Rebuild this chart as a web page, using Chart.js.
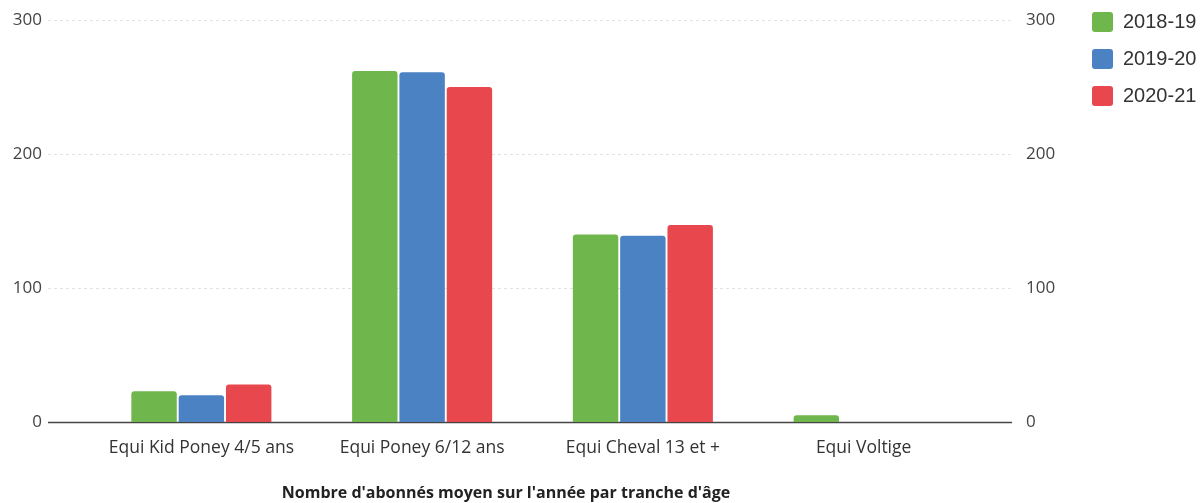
<!DOCTYPE html>
<html><head><meta charset="utf-8">
<script src="https://cdn.jsdelivr.net/npm/chart.js@4.4.1/dist/chart.umd.min.js"></script>
<style>html,body{margin:0;padding:0;background:#fff}#wrap{width:1200px;height:503px;position:relative}</style>
</head><body><div id="wrap"><canvas id="c" width="1200" height="503"></canvas></div>
<script>
const categories = ["Equi Kid Poney 4/5 ans", "Equi Poney 6/12 ans", "Equi Cheval 13 et +", "Equi Voltige"];
const seriesNames = ["2018-19", "2019-20", "2020-21"];
const values2018 = [23, 262, 140, 5];
const values2019 = [20, 261, 139, 0];
const values2020 = [28, 250, 147, 0];
const yTicks = [0, 100, 200, 300];
const chartTitle = "Nombre d'abonnés moyen sur l'année par tranche d'âge";
const colors = ["#6fb64d", "#4a82c4", "#e8474d"];

const CHART_RIGHT = 974;

const gridPlugin = {
  id: 'extGrid',
  afterLayout(chart) {
    const lg = chart.legend;
    if (lg) {
      const w = lg.width, h = lg.height;
      lg.left = 1075; lg.right = 1075 + w;
      lg.top = -5; lg.bottom = -5 + h;
    }
  },
  beforeDatasetsDraw(chart) {
    const ctx = chart.ctx, y = chart.scales.y;
    ctx.save();
    yTicks.forEach(v => {
      const py = Math.round(y.getPixelForValue(v)) + 0.5;
      ctx.beginPath();
      if (v === 0) { ctx.strokeStyle = '#444'; ctx.lineWidth = 1.5; ctx.setLineDash([]); }
      else { ctx.strokeStyle = '#e2e2e2'; ctx.lineWidth = 1; ctx.setLineDash([3, 3]); }
      ctx.moveTo(48, py); ctx.lineTo(1012, py); ctx.stroke();
    });
    ctx.restore();
  },
  afterDraw(chart) {
    const ctx = chart.ctx;
    ctx.save();
    ctx.font = 'bold 16px "Open Sans"';
    ctx.fillStyle = '#222';
    ctx.textAlign = 'center'; ctx.textBaseline = 'middle';
    ctx.fillText(chartTitle, 506, 493);
    ctx.restore();
  }
};

new Chart(document.getElementById('c'), {
  type: 'bar',
  data: {
    labels: categories,
    datasets: [
      { label: seriesNames[0], data: values2018, backgroundColor: colors[0] },
      { label: seriesNames[1], data: values2019, backgroundColor: colors[1] },
      { label: seriesNames[2], data: values2020, backgroundColor: colors[2] }
    ]
  },
  options: {
    responsive: false, animation: false,
    layout: { padding: 0 },
    datasets: { bar: { barPercentage: 0.96, categoryPercentage: 0.643, borderRadius: 3 } },
    scales: {
      x: {
        grid: { display: false, drawTicks: false }, border: { display: false },
        ticks: { padding: 16, color: '#333', font: { family: '"Open Sans"', size: 17.5 } },
        afterFit(s) { s.height = 81; }
      },
      y: {
        min: 0, max: 300,
        grid: { display: false, drawTicks: false }, border: { display: false },
        ticks: { stepSize: 100, padding: 49, color: '#444', font: { family: '"Open Sans"', size: 17 } },
        afterFit(s) { s.width = 91; s.paddingTop = 20; s.paddingBottom = 0; }
      },
      y2: {
        position: 'right', min: 0, max: 300,
        grid: { display: false, drawTicks: false }, border: { display: false },
        ticks: { stepSize: 100, padding: 52, color: '#444', font: { family: '"Open Sans"', size: 17 } },
        afterFit(s) {
          const lw = (s.chart.legend && s.chart.legend.width) || 0;
          s.width = 1200 - CHART_RIGHT - lw;
          s.paddingTop = 20; s.paddingBottom = 0;
        }
      }
    },
    plugins: {
      title: { display: false },
      tooltip: { enabled: false },
      legend: {
        position: 'right', align: 'start',
        labels: { boxWidth: 21, boxHeight: 20, padding: 17, useBorderRadius: true, borderRadius: 3,
          color: '#333', font: { family: '"Liberation Sans"', size: 20 } }
      }
    }
  },
  plugins: [gridPlugin]
});
</script></body></html>
